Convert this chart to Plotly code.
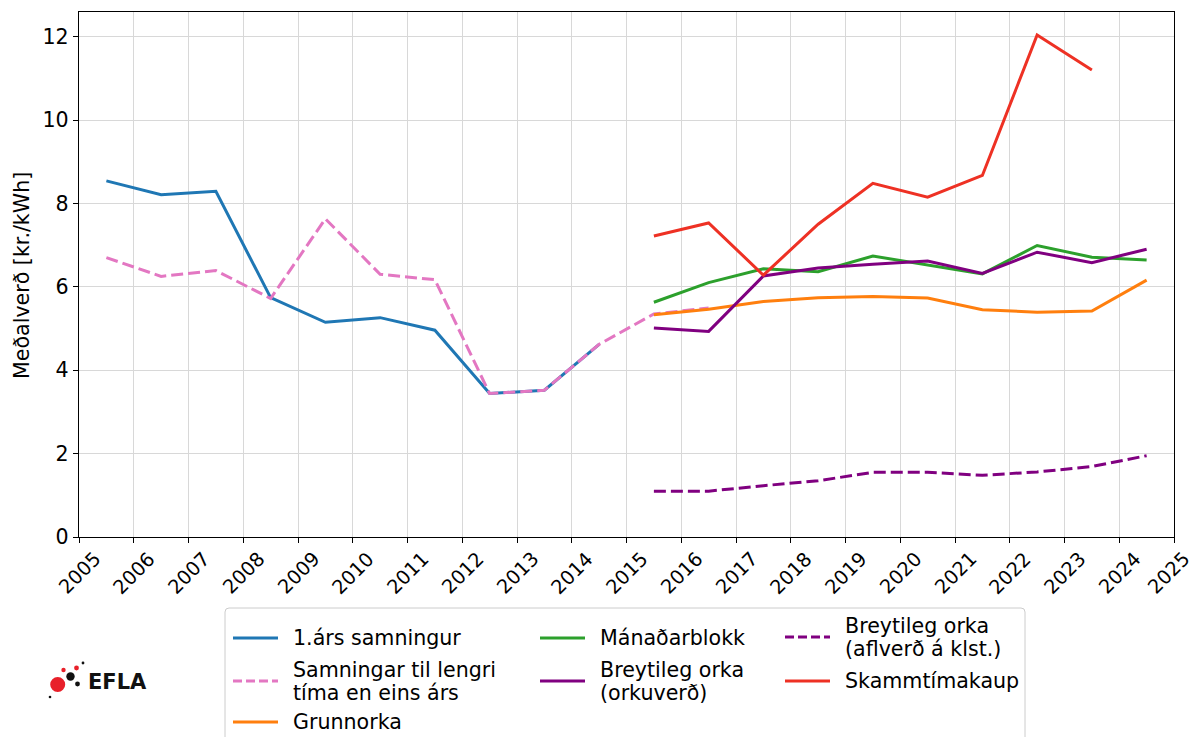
import plotly.graph_objects as go

# ---------------- data ----------------
years_a = [2005.5, 2006.5, 2007.5, 2008.5, 2009.5, 2010.5, 2011.5, 2012.5, 2013.5, 2014.5]
arssamningur = [8.54, 8.21, 8.29, 5.74, 5.15, 5.26, 4.96, 3.44, 3.52, 4.62]

years_b = [2005.5, 2006.5, 2007.5, 2008.5, 2009.5, 2010.5, 2011.5, 2012.5, 2013.5, 2014.5, 2015.5, 2016.5]
lengri = [6.70, 6.25, 6.39, 5.72, 7.63, 6.30, 6.17, 3.44, 3.52, 4.62, 5.35, 5.49]

years_c = [2015.5, 2016.5, 2017.5, 2018.5, 2019.5, 2020.5, 2021.5, 2022.5, 2023.5, 2024.5]
grunnorka = [5.33, 5.46, 5.65, 5.74, 5.77, 5.73, 5.45, 5.39, 5.42, 6.16]
manadarblokk = [5.63, 6.10, 6.43, 6.36, 6.74, 6.52, 6.31, 6.99, 6.71, 6.64]
orkuverd = [5.01, 4.93, 6.26, 6.45, 6.54, 6.62, 6.32, 6.83, 6.58, 6.90]
aflverd = [1.10, 1.10, 1.23, 1.35, 1.55, 1.55, 1.48, 1.56, 1.69, 1.95]

years_d = [2015.5, 2016.5, 2017.5, 2018.5, 2019.5, 2020.5, 2021.5, 2022.5, 2023.5]
skammtimakaup = [7.22, 7.53, 6.28, 7.50, 8.48, 8.15, 8.67, 12.04, 11.20]

x_ticks = list(range(2005, 2026))
y_ticks = [0, 2, 4, 6, 8, 10, 12]

FONT = "DejaVu Sans"
FS = 20.6
FS_X = 19.4
W, H = 1194, 737
L, R, T, B = 79, 1174, 12, 537

series = [
    ("1.árs samningur", years_a, arssamningur, "#1f77b4", "solid"),
    ("Samningar til lengri tíma en eins árs", years_b, lengri, "#e377c2", "12px,5px"),
    ("Grunnorka", years_c, grunnorka, "#ff7f0e", "solid"),
    ("Mánaðarblokk", years_c, manadarblokk, "#2ca02c", "solid"),
    ("Breytileg orka (orkuverð)", years_c, orkuverd, "#800080", "solid"),
    ("Breytileg orka (aflverð á klst.)", years_c, aflverd, "#800080", "12px,5px"),
    ("Skammtímakaup", years_d, skammtimakaup, "#ee3124", "solid"),
]

fig = go.Figure()
for name, xs, ys, col, dash in series:
    fig.add_trace(go.Scatter(x=xs, y=ys, mode="lines", name=name,
                             line=dict(color=col, width=3, dash=dash),
                             showlegend=False))


def px(x):
    return (x - L) / (R - L)


def py(y):
    return (B - y) / (B - T)


shapes = []
annotations = []

# legend frame (rounded)
shapes.append(dict(type="path", xref="paper", yref="paper",
                   path=(f"M {px(229)},{py(608)} L {px(1021)},{py(608)} "
                         f"Q {px(1025)},{py(608)} {px(1025)},{py(612)} "
                         f"L {px(1025)},{py(760)} L {px(225)},{py(760)} "
                         f"L {px(225)},{py(612)} Q {px(225)},{py(608)} {px(229)},{py(608)} Z"),
                   line=dict(color="#cccccc", width=1), fillcolor="rgba(255,255,255,0.8)",
                   layer="above"))

legend_items = [
    # (series index, sample x0, sample y, [(text, y)])
    (0, 233, 638, [("1.árs samningur", 638)]),
    (1, 233, 681, [("Samningar til lengri", 670), ("tíma en eins árs", 693)]),
    (2, 233, 722, [("Grunnorka", 722)]),
    (3, 540, 638, [("Mánaðarblokk", 638)]),
    (4, 540, 681, [("Breytileg orka", 670), ("(orkuverð)", 693)]),
    (5, 785, 637, [("Breytileg orka", 626), ("(aflverð á klst.)", 649)]),
    (6, 785, 681, [("Skammtímakaup", 681)]),
]
for idx, sx, sy, lines in legend_items:
    _, _, _, col, dash = series[idx]
    shapes.append(dict(type="line", xref="paper", yref="paper",
                       x0=px(sx), x1=px(sx + 45), y0=py(sy), y1=py(sy),
                       line=dict(color=col, width=3, dash="9px,4px" if dash != "solid" else "solid"),
                       layer="above"))
    for txt, ty in lines:
        annotations.append(dict(text=txt, xref="paper", yref="paper", x=px(sx + 58), y=py(ty),
                                xanchor="left", yanchor="middle", showarrow=False,
                                font=dict(family=FONT, size=FS, color="black")))

# x tick labels: rotated 45 degrees and centred on each tick (as in the reference)
for yr in x_ticks:
    annotations.append(dict(text=str(yr), xref="x", yref="paper", x=yr, y=py(573),
                            textangle=-45, xanchor="center", yanchor="middle", showarrow=False,
                            xshift=-6 if yr == x_ticks[-1] else 0,
                            font=dict(family=FONT, size=FS_X, color="black")))

# y-axis title
annotations.append(dict(text="Meðalverð [kr./kWh]", xref="paper", yref="paper",
                        x=px(22), y=py(276), textangle=-90, xanchor="center", yanchor="middle",
                        showarrow=False, font=dict(family=FONT, size=FS, color="black")))

# EFLA logo
dots = [  # (cx, cy, r, color)
    (57.7, 684.5, 7.5, "#e8202a"),
    (70.5, 676.5, 4.2, "#111111"),
    (63.5, 670.0, 2.2, "#e8202a"),
    (76.5, 668.0, 2.4, "#e8202a"),
    (83.0, 663.0, 1.4, "#111111"),
    (77.5, 684.0, 2.4, "#111111"),
    (50.0, 697.0, 1.3, "#111111"),
]
for cx, cy, rr, col in dots:
    shapes.append(dict(type="circle", xref="paper", yref="paper",
                       x0=px(cx - rr), x1=px(cx + rr), y0=py(cy + rr), y1=py(cy - rr),
                       fillcolor=col, line=dict(width=0), layer="above"))
annotations.append(dict(text="<b>EFLA</b>", xref="paper", yref="paper", x=px(86), y=py(682),
                        xanchor="left", yanchor="middle", showarrow=False,
                        font=dict(family=FONT, size=21, color="#111111")))

fig.update_layout(
    width=W, height=H,
    margin=dict(l=L, r=W - R, t=T, b=H - B, pad=0),
    paper_bgcolor="white", plot_bgcolor="white",
    font=dict(family=FONT, size=FS, color="black"),
    shapes=shapes, annotations=annotations,
    showlegend=False,
)
fig.update_xaxes(range=[2005, 2025], tickvals=x_ticks, showticklabels=False,
                 showgrid=True, gridcolor="#d8d8d8", gridwidth=1,
                 showline=True, linecolor="black", linewidth=1.3, mirror=True,
                 ticks="outside", ticklen=5, tickcolor="black", zeroline=False, automargin=False)
fig.update_yaxes(range=[0, 12.59], tickvals=y_ticks, showgrid=True, gridcolor="#d8d8d8", gridwidth=1,
                 showline=True, linecolor="black", linewidth=1.3, mirror=True,
                 ticks="outside", ticklen=5, tickcolor="black", zeroline=False, automargin=False,
                 tickfont=dict(family=FONT, size=FS, color="black"))

fig.write_html("out.html", config={"displayModeBar": False},
               post_script="document.body.style.margin='0';document.body.style.overflow='hidden';")
